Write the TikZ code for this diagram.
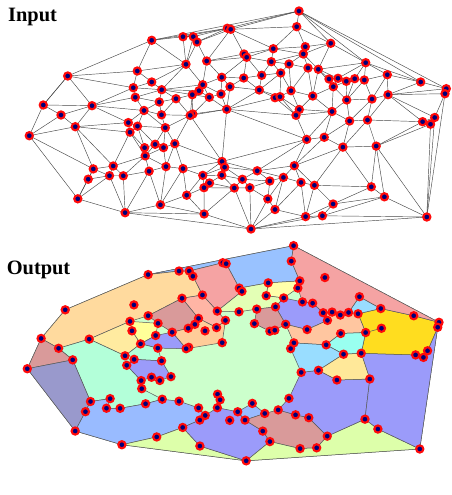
\documentclass[tikz,border=0pt]{standalone}
\usepackage{fontspec}
\setmainfont{Liberation Serif}
\definecolor{redc}{HTML}{FF0A0A}
\definecolor{navyc}{HTML}{00007A}
\definecolor{cGreen}{HTML}{CCFFCC}
\definecolor{cLBlue}{HTML}{99C2FF}
\definecolor{cPink}{HTML}{F5A3A3}
\definecolor{cOrange}{HTML}{FFDA9E}
\definecolor{cSalmon}{HTML}{FFB5A5}
\definecolor{cRosy}{HTML}{D99A9A}
\definecolor{cPeach}{HTML}{FFCC99}
\definecolor{cPeachB}{HTML}{FFC6A0}
\definecolor{cYellow}{HTML}{FFFF99}
\definecolor{cPaleY}{HTML}{FFEBA0}
\definecolor{cPurple}{HTML}{9B9BFA}
\definecolor{cMint}{HTML}{B3FFD9}
\definecolor{cSlate}{HTML}{9999CC}
\definecolor{cBlueL}{HTML}{99BBFF}
\definecolor{cYG}{HTML}{DDFFAA}
\definecolor{cPaleYel}{HTML}{FFFFAA}
\definecolor{cGtwo}{HTML}{E3FFB5}
\definecolor{cGold}{HTML}{FFDD1F}
\definecolor{cSky}{HTML}{99DDFF}
\definecolor{cCyan}{HTML}{99FFF0}
\definecolor{cYelB}{HTML}{FFE899}
% point set: id / x / y
\def\pts{1/299/11, 2/296.7/26.7, 3/227.3/28.3, 4/230.7/29.3, 5/151.7/40.3, 6/183/36.7, 7/193.3/36.7, 8/197/42, 9/330.7/43.3, 10/305.3/46.7, 11/273.3/48.7, 12/303.3/54, 13/244/54, 14/246.7/57.3, 15/206.7/61, 16/186/64.3, 17/271.3/61.7, 18/289/64, 19/365.7/62.7, 20/137.3/71, 21/308/68, 22/318.3/69.3, 23/280.7/73, 24/261.7/75.3, 25/243.7/78, 26/67.7/76, 27/387.3/74.7, 28/221.7/77.3, 29/151.7/82, 30/329/79, 31/338/78.3, 32/346.3/81.3, 33/354.7/78.7, 34/364.3/80, 35/420.7/82, 36/202.7/84.7, 37/133.3/87.7, 38/333.3/86.7, 39/230/86.7, 40/161.7/89.7, 41/259.3/90, 42/291/90.7, 43/199/90.7, 44/446.3/88.7, 45/445/93.7, 46/221/94, 47/192.3/94.7, 49/209.3/97.3, 50/275/97.7, 51/280/96.7, 52/312.7/96, 53/388/94.7, 54/372/99, 55/346.7/100, 56/135.3/97.3, 57/176/98.7, 58/159.3/102, 59/43.3/105, 60/92/105.7, 61/226.7/109.3, 62/299.3/109.5, 63/296/115.3, 64/332/111.5, 65/144/110.5, 66/161.5/114.8, 67/192.8/114, 68/190.2/115.4, 69/61/115, 70/349.6/121, 71/367.5/120, 72/422.6/121.7, 73/434.7/117.5, 74/430.5/124.2, 75/29.3/135.7, 76/75.3/126.7, 77/128.3/122.6, 78/137.5/126.2, 79/130/132.2, 80/165.3/127.7, 81/155.1/144.3, 82/163.5/147.6, 83/174.8/143.7, 84/144.6/147.7, 85/145.2/155.9, 86/306.7/139.4, 87/324.2/137.3, 88/342.9/147.1, 89/376.2/146.1, 90/113.2/166, 91/93.3/168.9, 92/109.5/175.7, 93/123.3/175.8, 94/149.1/171.2, 95/166/166.6, 96/183/168.6, 97/88.2/179.2, 98/222/161.5, 99/224.6/167.2, 100/221.8/175.2, 101/202.8/175.4, 102/209.5/183, 103/204/187.7, 104/186.7/195.2, 105/77.8/198.8, 106/160.4/204.8, 107/125.1/212.7, 108/204.1/214, 109/257.2/170.8, 110/294.3/165.7, 111/242.4/179.3, 112/269.8/181, 113/283.4/177.4, 114/301/182.4, 115/314.4/185.3, 116/234.3/188, 117/249.8/187.7, 118/371.3/186.8, 119/384.4/196.8, 120/267.8/198.9, 121/333.1/204, 122/275/209.5, 123/305.6/216.6, 124/322.4/215.8, 125/426.8/217, 126/251/229}
% triangulation edges
\def\edges{75/59, 59/26, 26/5, 5/1, 1/44, 44/45, 45/125, 125/126, 126/107, 107/105, 105/75,
5/6, 5/3, 6/3, 6/7, 7/3, 3/4, 4/1, 3/1, 7/8, 8/3, 8/4, 4/2, 1/2, 4/11, 2/11, 2/10, 10/11, 2/9, 9/10, 1/9, 1/19, 9/19, 1/35, 19/35, 35/44, 4/13, 13/11, 8/15, 4/15, 13/15, 7/16, 8/16, 6/16, 5/16, 5/20, 20/26, 16/20, 13/14, 14/15, 15/28, 14/28, 11/14, 14/17, 11/17, 10/12, 11/12, 12/17, 9/12, 9/22, 12/22, 12/21, 21/22, 12/18, 17/18, 18/21, 19/22, 19/31, 22/31, 22/30, 30/31, 19/33, 31/33, 19/34, 33/34, 19/27, 27/34, 27/35, 31/32, 32/33, 30/38, 31/38, 32/38, 22/38, 38/52, 22/52, 21/52, 21/42, 42/52, 18/42, 18/23, 23/42, 17/23, 17/24, 23/24, 14/24, 14/25, 24/25, 25/28, 28/36, 15/36, 16/36, 16/29, 20/29, 16/40, 29/40, 36/40, 20/37, 29/37, 26/37, 37/40, 28/39, 25/39, 28/46, 39/46, 36/46, 36/49, 43/49, 46/49, 40/43, 36/43, 40/47, 43/47, 40/57, 47/57, 47/49, 47/67, 49/67, 47/68, 57/68, 67/68, 49/61, 61/67, 46/61, 39/61, 39/41, 41/61, 25/41, 24/41, 23/41, 41/51, 23/51, 42/51, 41/50, 50/51, 50/61, 50/63, 61/63, 51/63, 51/62, 42/62, 62/63, 52/62, 52/64, 62/64, 38/64, 38/55, 55/64, 32/55, 33/55, 34/55, 34/54, 54/55, 27/54, 27/53, 53/54, 35/53, 44/53, 45/53, 53/73, 45/73, 53/72, 72/73, 72/74, 73/74, 73/125, 74/125, 53/71, 71/72, 54/71, 55/70, 70/71, 54/70, 64/70, 63/64, 63/86, 64/86, 64/87, 86/87, 70/87, 70/88, 87/88, 71/88, 71/89, 88/89, 72/89, 74/89, 89/125, 89/119, 119/125, 118/119, 89/118, 88/118, 61/86, 61/98, 86/98, 68/98, 61/68, 86/109, 98/109, 86/110, 109/110, 87/110, 88/110, 88/115, 110/115, 115/118, 110/114, 114/115, 110/113, 113/114, 109/113, 109/112, 112/113, 115/121, 118/121, 119/121, 119/124, 121/124, 124/125, 124/126, 121/123, 123/124, 115/123, 114/123, 114/122, 122/123, 123/126, 122/126, 113/120, 113/122, 120/122, 112/120, 117/120, 112/117, 111/112, 111/117, 109/111, 116/117, 111/116, 117/126, 120/126, 116/126, 108/116, 108/126, 107/108, 98/99, 99/109, 99/111, 99/100, 100/111, 100/116, 100/102, 102/116, 102/103, 103/116, 103/108, 104/108, 103/104, 104/106, 106/108, 106/107, 100/101, 101/102, 101/103, 101/104, 96/104, 96/101, 96/106, 95/106, 95/96, 98/101, 99/101, 83/96, 83/98, 96/98, 68/83, 80/83, 68/80, 66/68, 66/80, 57/66, 58/66, 57/58, 40/58, 37/56, 40/56, 56/58, 56/65, 58/65, 65/66, 65/80, 65/78, 78/80, 65/77, 77/78, 56/60, 60/65, 37/60, 26/60, 26/59, 59/60, 59/69, 60/69, 60/77, 60/76, 76/77, 69/76, 69/75, 75/76, 76/91, 75/91, 91/105, 91/97, 97/105, 76/90, 90/91, 77/79, 76/79, 79/90, 78/79, 79/84, 78/84, 78/81, 80/81, 81/84, 80/82, 81/82, 82/83, 84/85, 81/85, 82/85, 79/85, 85/90, 90/92, 91/92, 92/97, 92/105, 90/93, 92/93, 85/93, 85/94, 93/94, 94/95, 85/95, 82/95, 83/95, 94/106, 93/107, 94/107, 92/107}
% filled face of the subdivision: colour, first vertex, remaining vertices
\newcommand\facepoly[3]{\path[facet,fill=#1] (b#2) \foreach \vv in {#3}{ -- (b\vv)} -- cycle;}
\begin{document}
\begin{tikzpicture}[x=1pt,y=-1pt,
  edge/.style={draw=black!72,line width=0.45pt},
  facet/.style={draw=black!65,line width=0.5pt,line join=round},
  dot/.style={circle,fill=navyc,draw=redc,line width=2.1pt,minimum size=7.2pt,inner sep=0pt},
  title/.style={anchor=base west,inner sep=0pt,font=\bfseries\fontsize{20.4}{24}\selectfont}]
\useasboundingbox (0,0) rectangle (452,495);
\foreach \i/\x/\y in \pts {
  \coordinate (a\i) at (\x,\y);
  \coordinate (b\i) at ({0.9873*\x-1.63},{0.987*\y+234.8});
}
\node[title] (tin) at (8,22) {Input};
\node[title] (tout) at (6.6,274) {Output};
% input graph
\foreach \u/\v in \edges { \draw[edge] (a\u) -- (a\v); }
% output: coloured faces
\facepoly{cGreen}{75}{59,26,5,1,44,45,125,126,107,105}
\facepoly{cLBlue}{5}{1,2,10,11,13,4,3,7,6}
\facepoly{cPink}{7}{3,4,13,14,28,15,8}
\facepoly{cOrange}{26}{5,6,7,8,15,16,29,37,60,69,59}
\facepoly{cSalmon}{16}{15,28,39,46,36}
\facepoly{cRosy}{29}{16,36,43,47,57,40}
\facepoly{cPeach}{36}{46,39,61,68,57,47,43}
\facepoly{cYellow}{37}{40,58,65,56}
\facepoly{cPaleY}{60}{37,56,65,77}
\facepoly{cPurple}{65}{58,57,68,66}
\facepoly{cMint}{69}{60,77,65,66,80,78,79,84,85,95,94,93,92,90,91,76}
\facepoly{cPurple}{79}{78,80,83,82,81,84}
\facepoly{cRosy}{75}{59,69,76}
\facepoly{cSlate}{75}{76,91,97,105}
\facepoly{cBlueL}{105}{97,91,90,92,93,94,95,96,101,102,103,104,106,107}
\facepoly{cYG}{107}{106,104,108,126}
\facepoly{cPurple}{104}{103,102,100,111,117,120,122,126,108}
\facepoly{cBlueL}{111}{109,112,117}
\facepoly{cRosy}{117}{112,113,114,115,121,124,123,122,120}
\facepoly{cYG}{126}{122,123,124,121,118,119,125}
\facepoly{cPurple}{110}{86,87,88,89,118,121,115,114,113}
\facepoly{cPurple}{71}{72,74,73,45,125,119,118,89}
\facepoly{cGold}{34}{27,35,44,45,73,74,72,71,54}
\draw[facet] (b53) -- (b54);
\facepoly{cSky}{19}{27,34,33}
\facepoly{cPink}{1}{44,35,27,19,33,31,30,22,21,12,10,2}
\facepoly{cPaleYel}{11}{10,12,18,17}
\facepoly{cGtwo}{13}{11,17,18,23,24,25,28,14}
\facepoly{cPurple}{18}{21,22,30,38,52,42,23}
\facepoly{cRosy}{24}{23,42,51,50,41}
\facepoly{cPeachB}{30}{31,32,33,34,54,55,64,62,42,52,38}
\facepoly{cCyan}{64}{55,54,71,70}
\facepoly{cSky}{63}{62,64,70,87,86}
\facepoly{cYelB}{70}{71,89,88,87}
% vertices on both drawings
\foreach \i/\x/\y in \pts {
  \node[dot] (da\i) at (a\i) {};
  \node[dot] (db\i) at (b\i) {};
}
\end{tikzpicture}
\end{document}
